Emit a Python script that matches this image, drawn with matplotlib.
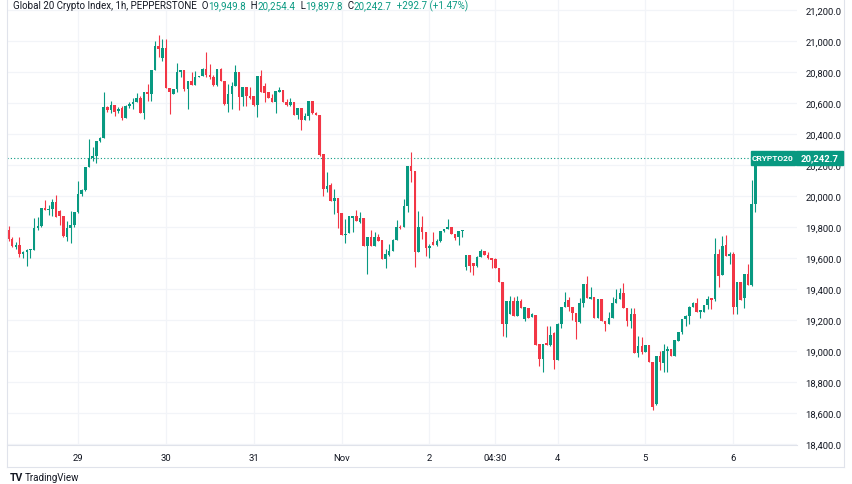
import matplotlib.pyplot as plt
import numpy as np
from matplotlib.patches import Rectangle
from matplotlib.lines import Line2D

plt.rcParams['font.family'] = ['Roboto', 'DejaVu Sans']

# hourly candles (left to right)
opens = [19781, 19723, 19674, 19684, 19625, 19641, 19650, 19654, 19794, 19809,
         19925, 19912, 19916, 19959, 19900, 19870, 19735, 19792, 19813, 19895,
         20013, 20040, 20185, 20243, 20260, 20357, 20372, 20572, 20557, 20587,
         20550, 20565, 20505, 20579, 20594, 20609, 20630, 20536, 20669, 20656,
         20815, 20970, 20888, 20953, 20697, 20658, 20688, 20798, 20813, 20690,
         20740, 20718, 20766, 20772, 20820, 20781, 20766, 20718, 20820, 20744,
         20594, 20658, 20712, 20802, 20641, 20701, 20647, 20643, 20587, 20772,
         20712, 20673, 20632, 20609, 20673, 20686, 20609, 20587, 20604, 20523,
         20566, 20493, 20518, 20615, 20536, 20523, 20271, 20045, 20071, 19970,
         19985, 19888, 19749, 19760, 19856, 19873, 19835, 19858, 19680, 19734,
         19680, 19734, 19718, 19594, 19620, 19648, 19718, 19798, 19798, 19934,
         20196, 20164, 19641, 19798, 19766, 19662, 19701, 19684, 19712, 19776,
         19787, 19798, 19755, 19733, 19776, 19540, 19619, 19568, 19547, 19604,
         19647, 19619, 19598, 19594, 19533, 19443, 19174, 19239, 19325, 19228,
         19325, 19206, 19275, 19217, 19232, 19045, 18948, 19052, 19039, 19116,
         18944, 19174, 19282, 19331, 19282, 19245, 19185, 19310, 19432, 19335,
         19346, 19211, 19335, 19196, 19174, 19211, 19310, 19335, 19374, 19275,
         19196, 19239, 18987, 19030, 18991, 19039, 18927, 18659, 18966, 18923,
         19002, 19013, 18970, 19067, 19125, 19206, 19224, 19282, 19307, 19254,
         19254, 19297, 19340, 19335, 19626, 19490, 19684, 19615, 19626, 19282,
         19443, 19340, 19497, 19426, 19949.8]
highs = [19805, 19734, 19700, 19734, 19647, 19658, 19658, 19858, 19862, 19925,
         19974, 19944, 19981, 20007, 19910, 19870, 19841, 19905, 19899, 20095,
         20045, 20185, 20368, 20314, 20357, 20378, 20673, 20583, 20615, 20587,
         20572, 20579, 20587, 20609, 20630, 20665, 20643, 20669, 20723, 20815,
         21002, 21039, 21013, 21013, 20697, 20690, 20856, 20813, 20813, 20740,
         20798, 20809, 20772, 20824, 20927, 20852, 20781, 20820, 20825, 20744,
         20723, 20733, 20845, 20802, 20701, 20701, 20701, 20643, 20772, 20813,
         20729, 20673, 20658, 20680, 20701, 20686, 20626, 20630, 20604, 20566,
         20566, 20536, 20615, 20615, 20540, 20523, 20271, 20157, 20084, 20045,
         19985, 19888, 19852, 19873, 19873, 19912, 19895, 19858, 19734, 19783,
         19766, 19755, 19718, 19658, 19691, 19722, 19848, 19810, 19981, 20196,
         20286, 20164, 19906, 19873, 19766, 19690, 19770, 19720, 19776, 19787,
         19852, 19798, 19755, 19776, 19781, 19619, 19619, 19568, 19611, 19658,
         19647, 19637, 19598, 19598, 19533, 19443, 19325, 19353, 19346, 19357,
         19335, 19282, 19275, 19245, 19232, 19045, 19045, 19159, 19159, 19120,
         19181, 19282, 19383, 19346, 19282, 19245, 19340, 19432, 19482, 19411,
         19346, 19335, 19335, 19196, 19250, 19346, 19400, 19404, 19439, 19275,
         19275, 19275, 19095, 19088, 19039, 19039, 18927, 18966, 19000, 19045,
         19030, 19013, 19073, 19125, 19206, 19232, 19288, 19314, 19340, 19267,
         19297, 19353, 19340, 19727, 19658, 19744, 19748, 19640, 19641, 19443,
         19443, 19497, 19561, 20100, 20254.4]
lows = [19712, 19670, 19658, 19605, 19598, 19547, 19598, 19654, 19783, 19798,
        19912, 19880, 19873, 19867, 19815, 19735, 19712, 19697, 19798, 19890,
        20002, 20030, 20185, 20228, 20213, 20350, 20372, 20544, 20536, 20518,
        20536, 20493, 20505, 20566, 20561, 20609, 20536, 20497, 20615, 20615,
        20815, 20900, 20873, 20697, 20529, 20658, 20673, 20766, 20680, 20561,
        20718, 20718, 20766, 20772, 20766, 20755, 20712, 20712, 20740, 20587,
        20544, 20561, 20712, 20555, 20583, 20579, 20626, 20579, 20508, 20673,
        20609, 20632, 20604, 20536, 20673, 20604, 20583, 20579, 20523, 20497,
        20428, 20493, 20493, 20529, 20523, 20260, 20002, 20024, 19970, 19884,
        19792, 19749, 19697, 19760, 19766, 19837, 19826, 19680, 19497, 19680,
        19680, 19712, 19594, 19534, 19615, 19648, 19718, 19785, 19798, 19899,
        20093, 19540, 19641, 19723, 19610, 19598, 19684, 19680, 19705, 19766,
        19787, 19755, 19718, 19684, 19733, 19520, 19512, 19490, 19540, 19604,
        19619, 19594, 19533, 19533, 19443, 19095, 19088, 19239, 19228, 19228,
        19275, 19196, 19211, 19217, 19039, 18905, 18862, 19039, 19034, 18884,
        18944, 19146, 19282, 19260, 19202, 19077, 19181, 19282, 19340, 19335,
        19211, 19211, 19196, 19131, 19174, 19211, 19310, 19335, 19275, 19163,
        19146, 18987, 18960, 18981, 18991, 18927, 18621, 18650, 18880, 18862,
        18862, 18970, 18970, 19067, 19110, 19163, 19174, 19282, 19250, 19211,
        19254, 19271, 19271, 19325, 19411, 19490, 19611, 19561, 19239, 19239,
        19331, 19275, 19426, 19420, 19897.8]
closes = [19723, 19676, 19685, 19626, 19641, 19649, 19655, 19794, 19809, 19925,
          19912, 19916, 19959, 19867, 19870, 19740, 19792, 19813, 19895, 20013,
          20039, 20185, 20243, 20260, 20357, 20372, 20572, 20557, 20587, 20544,
          20561, 20501, 20579, 20594, 20609, 20630, 20536, 20669, 20656, 20815,
          20970, 20950, 20953, 20697, 20673, 20688, 20798, 20813, 20690, 20740,
          20718, 20766, 20772, 20820, 20781, 20766, 20718, 20820, 20744, 20594,
          20658, 20712, 20802, 20641, 20701, 20643, 20635, 20587, 20772, 20673,
          20665, 20632, 20609, 20680, 20686, 20609, 20587, 20604, 20523, 20566,
          20493, 20518, 20615, 20536, 20523, 20265, 20045, 20067, 19970, 19985,
          19888, 19749, 19755, 19873, 19873, 19837, 19858, 19680, 19734, 19680,
          19734, 19712, 19594, 19626, 19648, 19718, 19798, 19792, 19934, 20196,
          20164, 19641, 19798, 19766, 19662, 19680, 19684, 19712, 19776, 19787,
          19798, 19755, 19727, 19776, 19781, 19619, 19551, 19547, 19604, 19647,
          19619, 19598, 19589, 19533, 19443, 19174, 19325, 19325, 19228, 19325,
          19275, 19282, 19211, 19239, 19039, 18948, 19045, 19039, 19103, 18944,
          19174, 19282, 19318, 19282, 19245, 19185, 19310, 19432, 19340, 19346,
          19211, 19335, 19196, 19174, 19211, 19310, 19335, 19374, 19275, 19196,
          19239, 18987, 19030, 18991, 19039, 18927, 18637, 18966, 18927, 19002,
          19013, 18970, 19073, 19125, 19206, 19224, 19282, 19307, 19250, 19267,
          19297, 19335, 19331, 19626, 19482, 19675, 19611, 19626, 19282, 19443,
          19331, 19497, 19426, 19949.8, 20242.7]

tick_pos = [19, 43, 67, 91, 115, 133, 150, 174, 198]
tick_labels = ['29', '30', '31', 'Nov', '2', '04:30', '4', '5', '6']
price_ticks = [18400, 18600, 18800, 19000, 19200, 19400, 19600, 19800,
               20000, 20200, 20400, 20600, 20800, 21000, 21200]
symbol = 'CRYPTO20'
last_price = 20242.7
header = [('Global 20 Crypto Index, 1h, PEPPERSTONE', 'k'), ('  O', 'k'),
          ('19,949.8', 'g'), ('  H', 'k'), ('20,254.4', 'g'), ('  L', 'k'),
          ('19,897.8', 'g'), ('  C', 'k'), ('20,242.7', 'g'),
          ('  +292.7 (+1.47%)', 'g')]

GREEN = '#089981'
RED = '#F23645'
DARK = '#131722'
GRID = '#f2f4f8'
BORDER = '#e0e3eb'

W, H = 852, 485
fig = plt.figure(figsize=(W / 100, H / 100), dpi=100)
fig.patch.set_facecolor('white')


def fx(px):
    return px / W


def fy(py):
    return 1 - py / H


ax = fig.add_axes([fx(7), fy(446), fx(790), 446 / H])
ax.set_xlim(-0.41, 215.4)
ax.set_ylim(18393.5, 21271)

o = np.array(opens)
c = np.array(closes)
hi = np.array(highs)
lo = np.array(lows)
idx = np.arange(len(c))
cols = np.where(c >= o, GREEN, RED)

ax.vlines(idx, lo, hi, colors=cols, lw=0.8, zorder=3)
body = np.maximum(np.abs(c - o), 5)
ax.bar(idx, body, bottom=np.minimum(o, c), width=0.7, color=cols, lw=0, zorder=4)

ax.axhline(last_price, color=GREEN, lw=0.8, ls=(0, (1, 2)), zorder=2)

ax.set_xticks(tick_pos)
ax.set_xticklabels(tick_labels)
ax.set_yticks(price_ticks)
ax.set_yticklabels([f'{v:,.1f}' for v in price_ticks])
ax.yaxis.tick_right()
ax.tick_params(length=0, labelsize=6.8, colors=DARK)
ax.tick_params(axis='y', pad=6)
ax.tick_params(axis='x', pad=6)
ax.grid(color=GRID, lw=0.9, zorder=0)
for s in ax.spines.values():
    s.set_visible(False)

# frame lines
for xs, ys in [([7, 7], [0, 468]), ([844, 844], [0, 468]), ([7, 844], [468, 468]),
               ([7, 797], [446, 446])]:
    fig.add_artist(Line2D([fx(x) for x in xs], [fy(y) for y in ys],
                          color=BORDER, lw=0.8))

# symbol + last price labels
fig.add_artist(Rectangle((fx(751), fy(166)), fx(44), 14 / H, color=GREEN, zorder=5))
fig.text(fx(773), fy(159), symbol, color='white', fontsize=6, fontweight='bold',
         ha='center', va='center', zorder=6)
fig.add_artist(Rectangle((fx(796), fy(166)), fx(47), 14 / H, color=GREEN, zorder=5))
fig.text(fx(819.5), fy(159), f'{last_price:,.1f}', color='white', fontsize=6.8,
         fontweight='bold', ha='center', va='center', zorder=6)

# header line, pieces laid out on one baseline
renderer = fig.canvas.get_renderer()
x = fx(13)
for txt, cl in header:
    t = fig.text(x, fy(9), txt, va='baseline', fontsize=7,
                 color=GREEN if cl == 'g' else DARK)
    x += t.get_window_extent(renderer).width / W

# TradingView logo
fig.text(fx(10), fy(478), 'TV', color=DARK, fontsize=7.5, fontweight='bold', va='center')
fig.text(fx(25), fy(478), 'TradingView', color=DARK, fontsize=7, va='center')

fig.savefig('out.png', dpi=100)
